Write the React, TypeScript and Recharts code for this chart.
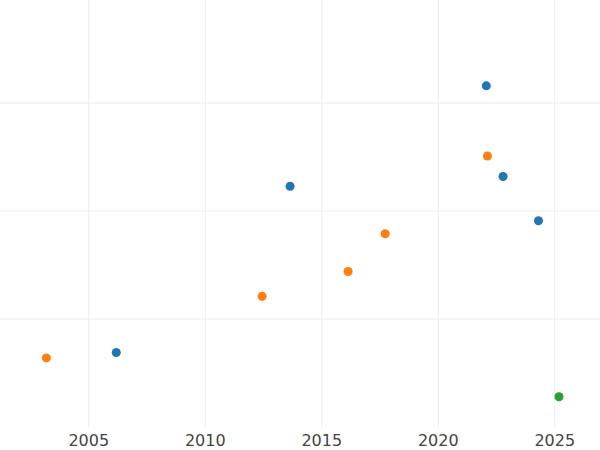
import { ScatterChart, Scatter, XAxis, YAxis, ReferenceLine } from 'recharts';

const blueYears = [2006.18, 2013.64, 2022.06, 2022.78, 2024.3];
const blueValues = [0.69, 2.23, 3.16, 2.32, 1.91];

const orangeYears = [2003.18, 2012.44, 2016.13, 2017.72, 2022.11];
const orangeValues = [0.64, 1.21, 1.44, 1.79, 2.51];

const greenYears = [2025.18];
const greenValues = [0.28];

const yearTicks = [2005, 2010, 2015, 2020, 2025];
const valueTicks = [1, 2, 3];

const toPoints = (xs: number[], ys: number[]) => xs.map((x, i) => ({ x, y: ys[i] }));

const blue = toPoints(blueYears, blueValues);
const orange = toPoints(orangeYears, orangeValues);
const green = toPoints(greenYears, greenValues);

const gridColor = '#ebebeb';

const App = () => {
    return (
        <div style={{ position: 'absolute', left: 0, top: 0, width: 600, height: 450, background: '#fff' }}>
            <ScatterChart width={600} height={450} margin={{ top: 0, right: 0, bottom: 0, left: 0 }}>
                <XAxis
                    type="number"
                    dataKey="x"
                    domain={[2001.19, 2026.94]}
                    ticks={yearTicks}
                    axisLine={false}
                    tickLine={false}
                    height={23}
                    tick={{ fill: '#444', fontSize: 16, fontFamily: 'DejaVu Sans' }}
                />
                <YAxis type="number" dataKey="y" domain={[0, 3.955]} ticks={valueTicks} hide />
                {/* grid lines only at the ticks, no frame at the plot edges */}
                {yearTicks.map((t) => (
                    <ReferenceLine key={'x' + t} x={t} stroke={gridColor} strokeWidth={1} />
                ))}
                {valueTicks.map((t) => (
                    <ReferenceLine key={'y' + t} y={t} stroke={gridColor} strokeWidth={1} />
                ))}
                <Scatter data={blue} fill="#1f77b4" isAnimationActive={false} />
                <Scatter data={orange} fill="#ff7f0e" isAnimationActive={false} />
                <Scatter data={green} fill="#2ca02c" isAnimationActive={false} />
            </ScatterChart>
        </div>
    );
};

export default App;
